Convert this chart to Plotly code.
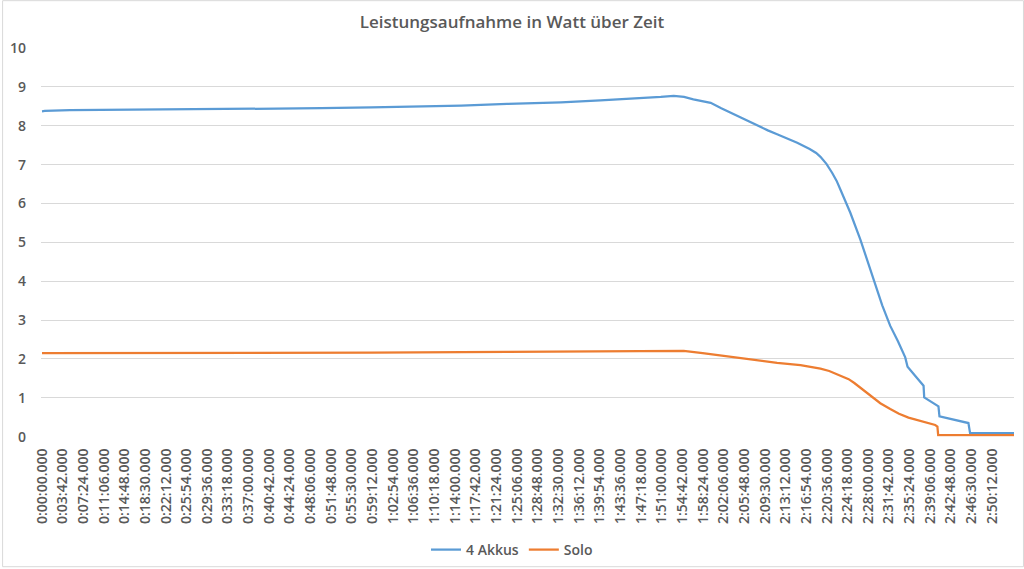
import plotly.graph_objects as go

# ---- data (time in seconds, power in watts) ----
akkus_t = [0, 30, 300, 1000, 2000, 3000, 3540, 4000, 4505, 5000, 5577, 6000, 6400, 6650, 6789,
           6900, 7000, 7186, 7300, 7430, 7560, 7687, 7800, 7900, 8010, 8116, 8250, 8320, 8366, 8430,
           8491, 8540, 8580, 8687, 8795, 8937, 9030, 9116, 9200, 9277, 9302, 9390, 9474, 9481,
           9560, 9634, 9645, 9800, 9956, 9974, 10446]
akkus_w = [8.37, 8.38, 8.40, 8.41, 8.43, 8.45, 8.47, 8.49, 8.52, 8.56, 8.60, 8.65, 8.70, 8.74, 8.77,
           8.74, 8.68, 8.59, 8.45, 8.30, 8.14, 7.99, 7.88, 7.78, 7.67, 7.56, 7.40, 7.30, 7.20, 7.02,
           6.79, 6.58, 6.36, 5.76, 5.07, 4.05, 3.38, 2.85, 2.45, 2.04, 1.80, 1.55, 1.31, 1.01,
           0.89, 0.78, 0.52, 0.44, 0.35, 0.09, 0.09]

solo_t = [0, 1000, 2000, 3540, 5000, 6000, 6650, 6790, 6896, 7100, 7325, 7500, 7687, 7900, 8151,
          8366, 8460, 8545, 8610, 8669, 8730, 8795, 8902, 9009, 9116, 9210, 9312, 9474, 9599,
          9623, 9631, 10446]
solo_w = [2.15, 2.15, 2.15, 2.16, 2.18, 2.20, 2.21, 2.22, 2.21, 2.15, 2.08, 2.01, 1.95, 1.90, 1.84,
          1.75, 1.69, 1.61, 1.55, 1.48, 1.38, 1.26, 1.05, 0.86, 0.71, 0.59, 0.49, 0.38, 0.30,
          0.26, 0.04, 0.04]

tick_seconds = [i * 222 for i in range(47)]
tick_labels = [
    "0:00:00.000", "0:03:42.000", "0:07:24.000", "0:11:06.000", "0:14:48.000", "0:18:30.000",
    "0:22:12.000", "0:25:54.000", "0:29:36.000", "0:33:18.000", "0:37:00.000", "0:40:42.000",
    "0:44:24.000", "0:48:06.000", "0:51:48.000", "0:55:30.000", "0:59:12.000", "1:02:54.000",
    "1:06:36.000", "1:10:18.000", "1:14:00.000", "1:17:42.000", "1:21:24.000", "1:25:06.000",
    "1:28:48.000", "1:32:30.000", "1:36:12.000", "1:39:54.000", "1:43:36.000", "1:47:18.000",
    "1:51:00.000", "1:54:42.000", "1:58:24.000", "2:02:06.000", "2:05:48.000", "2:09:30.000",
    "2:13:12.000", "2:16:54.000", "2:20:36.000", "2:24:18.000", "2:28:00.000", "2:31:42.000",
    "2:35:24.000", "2:39:06.000", "2:42:48.000", "2:46:30.000", "2:50:12.000",
]

font_family = "Open Sans"
gray = "#595959"

fig = go.Figure()
fig.add_trace(go.Scatter(x=akkus_t, y=akkus_w, mode="lines", name="4 Akkus",
                         line=dict(color="#5B9BD5", width=2.25)))
fig.add_trace(go.Scatter(x=solo_t, y=solo_w, mode="lines", name="Solo",
                         line=dict(color="#ED7D31", width=2.25)))

W, H = 1024, 569
L, R, T, B = 39, 10, 48, 131
pw = W - L - R
ph = H - T - B

fig.update_layout(
    width=W, height=H,
    margin=dict(l=L, r=R, t=T, b=B),
    paper_bgcolor="white", plot_bgcolor="white",
    font=dict(family=font_family, color=gray, size=13, weight=600),
    title=dict(text="Leistungsaufnahme in Watt über Zeit", x=0.5, xanchor="center",
               y=1 - 22 / H, yanchor="middle", yref="container",
               font=dict(family=font_family, size=17, color=gray, weight=600)),
    showlegend=True,
    legend=dict(orientation="h", x=0.5, xanchor="center", xref="container",
                y=1 - 550 / H, yanchor="middle", yref="container",
                font=dict(family=font_family, size=14, color=gray, weight=600),
                itemwidth=30, tracegroupgap=0),
    xaxis=dict(range=[-11, 10446], tickmode="array", tickvals=tick_seconds, ticktext=tick_labels,
               tickangle=-90, showgrid=False, zeroline=False, showline=False, ticks="",
               ticklabelstandoff=8, tickfont=dict(size=14, color=gray, weight=600)),
    yaxis=dict(range=[0, 10], tickmode="array", tickvals=list(range(11)),
               showgrid=True, gridcolor="#d9d9d9", gridwidth=1, zeroline=False,
               showline=False, ticks="", ticklabelstandoff=14,
               tickfont=dict(size=14, color=gray, weight=600)),
    shapes=[dict(type="rect", xref="paper", yref="paper",
                 x0=-L / pw + 0.5 / pw, x1=(W - L - 0.5) / pw,
                 y0=-(B - 0.5) / ph, y1=(H - B - 0.5) / ph,
                 line=dict(color="#d9d9d9", width=1), layer="below")],
)

fig.write_html("out.html")
